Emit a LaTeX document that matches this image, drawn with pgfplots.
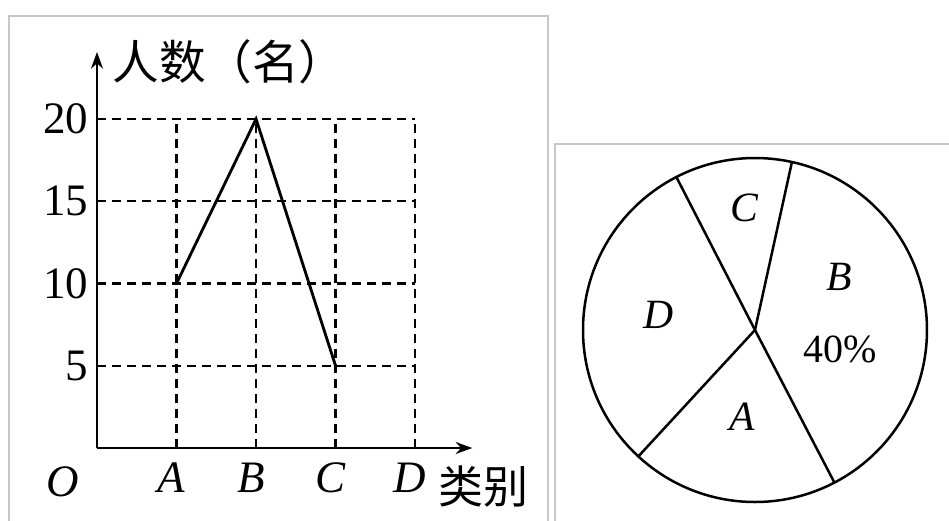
\documentclass[border=0pt]{standalone}
\usepackage{fontspec}
\setmainfont{Liberation Serif}
\newfontfamily\cjk{Noto Sans CJK SC}
\usepackage{pgfplots}
\pgfplotsset{compat=1.18}
\usepgfplotslibrary{polar}
\usetikzlibrary{arrows.meta}

\begin{document}
\begin{tikzpicture}
% picture frame: 949 x 520 px at 0.3pt per px
\useasboundingbox (0,0) rectangle (284.7pt,-156pt);
\begin{scope}
\clip (0,0) rectangle (284.7pt,-156pt);
\draw[black!22, line width=0.6pt] (2.7pt,-4.8pt) rectangle (164.4pt,-170pt);
\draw[black!22, line width=0.6pt] (166.5pt,-43.2pt) rectangle (300pt,-170pt);
\end{scope}

\begin{axis}[
  at={(29.1pt,-134.4pt)}, anchor=south west, scale only axis,
  width=112.6pt, height=118.8pt,
  xmin=0, xmax=4.72, ymin=0, ymax=24.07,
  axis lines=left,
  axis line style={line width=0.75pt, -{Stealth[length=5pt,width=3.6pt]}},
  xtick={1,2,3,4},
  xticklabels={\textit{A},\textit{B},\textit{C},\textit{D}},
  ytick={5,10,15,20},
  yticklabels={5,10,15,20},
  major tick length=0pt,
  tick label style={font=\fontsize{13.5}{15}\selectfont},
  yticklabel style={inner sep=1pt, xshift=-1.5pt},
  xticklabel style={yshift=-1pt, xshift=-1.5pt},
  clip=false,
]
% dashed grid
\addplot[black, line width=0.7pt, dash pattern=on 2.7pt off 1.8pt] coordinates {(0,5) (4,5)};
\addplot[black, line width=0.7pt, dash pattern=on 2.7pt off 1.8pt] coordinates {(0,10) (4,10)};
\addplot[black, line width=0.7pt, dash pattern=on 2.7pt off 1.8pt] coordinates {(0,15) (4,15)};
\addplot[black, line width=0.7pt, dash pattern=on 2.7pt off 1.8pt] coordinates {(0,20) (4,20)};
\addplot[black, line width=0.7pt, dash pattern=on 2.7pt off 1.8pt] coordinates {(1,0) (1,20)};
\addplot[black, line width=0.7pt, dash pattern=on 2.7pt off 1.8pt] coordinates {(2,0) (2,20)};
\addplot[black, line width=0.7pt, dash pattern=on 2.7pt off 1.8pt] coordinates {(3,0) (3,20)};
\addplot[black, line width=0.7pt, dash pattern=on 2.7pt off 1.8pt] coordinates {(4,0) (4,20)};
% data
\addplot[black, line width=0.85pt] coordinates {(1,10) (2,20) (3,5)};
% labels
\node[font=\fontsize{13.5}{15}\selectfont] at (axis cs:0,0) [xshift=-10.2pt, yshift=-10.2pt] {\textit{O}};
\node[font=\cjk\fontsize{13.5}{15}\selectfont] at (axis cs:4.86,0) [yshift=-11.7pt] {类别};
\node[font=\cjk\fontsize{14}{15}\selectfont] at (axis cs:1.66,23.47) {人数（名）};
\end{axis}

\begin{polaraxis}[
  at={(226.5pt,-99pt)}, anchor=center, scale only axis,
  width=103.2pt, height=103.2pt,
  ymin=0, ymax=1,
  xtick=\empty, ytick=\empty,
  hide y axis,
  axis line style={line width=0.75pt},
  clip=false,
]
\addplot[black, line width=0.75pt] coordinates {(77.6,0) (77.6,1)};
\addplot[black, line width=0.75pt] coordinates {(-62.5,0) (-62.5,1)};
\addplot[black, line width=0.75pt] coordinates {(227.3,0) (227.3,1)};
\addplot[black, line width=0.75pt] coordinates {(117.2,0) (117.2,1)};
\node[font=\fontsize{12.5}{15}\selectfont] at (axis cs:94.7,0.71) {\textit{C}};
\node[font=\fontsize{12.5}{15}\selectfont] at (axis cs:32,0.58) {\textit{B}};
\node[font=\fontsize{12}{15}\selectfont] at (axis cs:-13,0.51) {40\%};
\node[font=\fontsize{12.5}{15}\selectfont] at (axis cs:-98.5,0.51) {\textit{A}};
\node[font=\fontsize{12.5}{15}\selectfont] at (axis cs:171,0.57) {\textit{D}};
\end{polaraxis}
\end{tikzpicture}
\end{document}
